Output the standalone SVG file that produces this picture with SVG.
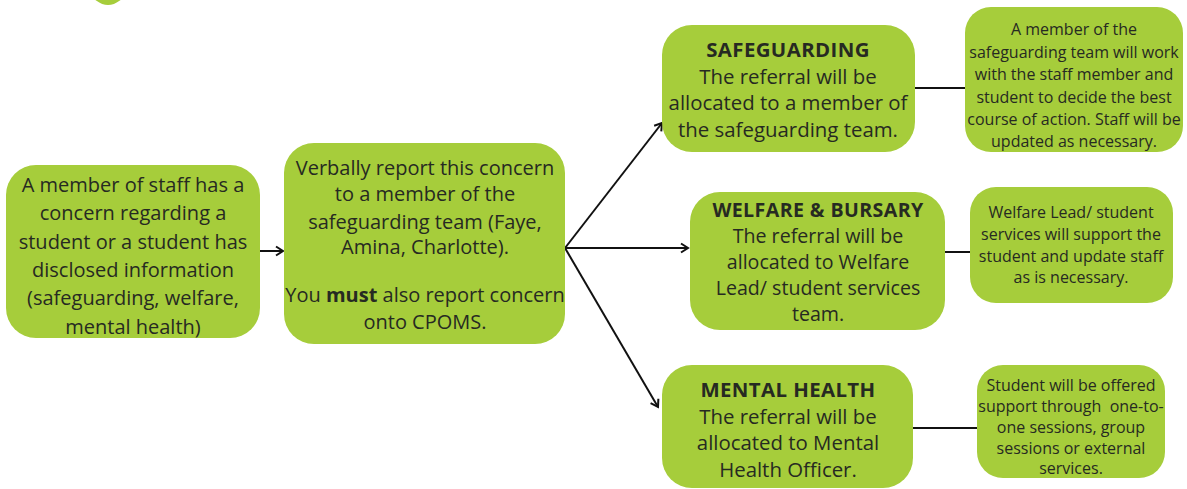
<svg xmlns="http://www.w3.org/2000/svg" width="1187" height="489" viewBox="0 0 1187 489">
<defs>
<marker id="arr" markerWidth="12" markerHeight="12" refX="9" refY="6" orient="auto" markerUnits="userSpaceOnUse">
<path d="M2,1.5 L9,6 L2,10.5" fill="none" stroke="#111" stroke-width="2"/>
</marker>
</defs>
<style>
.box{fill:#a6cd3b;}
.t{font-family:"Open Sans","Liberation Sans",sans-serif;fill:#262a22;text-anchor:middle;}
.l{font-size:20px;}
.m{font-size:20.4px;}
.w{font-size:19.6px;}
.s{font-size:16px;}
.b{font-weight:bold;letter-spacing:0.4px;}
.c{stroke:#111;stroke-width:2;fill:none;}
</style>
<rect width="1187" height="489" fill="#ffffff"/>
<g id="top-circle"><ellipse cx="108" cy="-50" rx="30" ry="55" class="box"/></g>
<g id="connectors">
<line class="c" x1="260" y1="251" x2="283" y2="251" marker-end="url(#arr)"/>
<line class="c" x1="565" y1="248" x2="662" y2="123" marker-end="url(#arr)"/>
<line class="c" x1="565" y1="248" x2="688" y2="248" marker-end="url(#arr)"/>
<line class="c" x1="565" y1="248" x2="658" y2="407" marker-end="url(#arr)"/>
<line class="c" x1="915" y1="88" x2="966" y2="88"/>
<line class="c" x1="945" y1="252" x2="971" y2="252"/>
<line class="c" x1="913" y1="428" x2="978" y2="428"/>
</g>
<g id="concern">
<rect class="box" x="6" y="165" width="254" height="173" rx="30"/>
<text class="t l" x="133"><tspan x="133" y="192">A member of staff has a</tspan><tspan x="133" y="220">concern regarding a</tspan><tspan x="133" y="249">student or a student has</tspan><tspan x="133" y="277">disclosed information</tspan><tspan x="133" y="305">(safeguarding, welfare,</tspan><tspan x="133" y="334">mental health)</tspan></text>
</g>
<g id="report">
<rect class="box" x="284" y="143" width="281" height="201" rx="30"/>
<text class="t l" x="425"><tspan x="425" y="175">Verbally report this concern</tspan><tspan x="425" y="201">to a member of the</tspan><tspan x="425" y="229">safeguarding team (Faye,</tspan><tspan x="425" y="254">Amina, Charlotte).</tspan><tspan x="425" y="302">You <tspan font-weight="bold">must</tspan> also report concern</tspan><tspan x="425" y="329">onto CPOMS.</tspan></text>
</g>
<g id="safeguarding">
<rect class="box" x="662" y="25" width="253" height="127" rx="30"/>
<text class="t m" x="788"><tspan x="788" y="57" class="b">SAFEGUARDING</tspan><tspan x="788" y="84">The referral will be</tspan><tspan x="788" y="110">allocated to a member of</tspan><tspan x="788" y="137">the safeguarding team.</tspan></text>
</g>
<g id="safeguarding-outcome">
<rect class="box" x="965" y="7" width="218" height="145" rx="26"/>
<text class="t s" x="1074"><tspan x="1074" y="35">A member of the</tspan><tspan x="1074" y="58">safeguarding team will work</tspan><tspan x="1074" y="80">with the staff member and</tspan><tspan x="1074" y="103">student to decide the best</tspan><tspan x="1074" y="125">course of action. Staff will be</tspan><tspan x="1074" y="147">updated as necessary.</tspan></text>
</g>
<g id="welfare">
<rect class="box" x="690" y="192" width="255" height="138" rx="30"/>
<text class="t w" x="818"><tspan x="818" y="217" class="b">WELFARE &amp; BURSARY</tspan><tspan x="818" y="243">The referral will be</tspan><tspan x="818" y="269">allocated to Welfare</tspan><tspan x="818" y="295">Lead/ student services</tspan><tspan x="818" y="321">team.</tspan></text>
</g>
<g id="welfare-outcome">
<rect class="box" x="970" y="187" width="203" height="116" rx="26"/>
<text class="t s" x="1071"><tspan x="1071" y="218">Welfare Lead/ student</tspan><tspan x="1071" y="240">services will support the</tspan><tspan x="1071" y="262">student and update staff</tspan><tspan x="1071" y="283">as is necessary.</tspan></text>
</g>
<g id="mental-health">
<rect class="box" x="662" y="365" width="251" height="123" rx="30"/>
<text class="t m" x="788"><tspan x="788" y="397" class="b">MENTAL HEALTH</tspan><tspan x="788" y="424">The referral will be</tspan><tspan x="788" y="450">allocated to Mental</tspan><tspan x="788" y="477">Health Officer.</tspan></text>
</g>
<g id="mental-health-outcome">
<rect class="box" x="977" y="365" width="188" height="113" rx="26"/>
<text class="t s" x="1071" xml:space="preserve"><tspan x="1071" y="391">Student will be offered</tspan><tspan x="1071" y="412">support through  one-to-</tspan><tspan x="1071" y="433">one sessions, group</tspan><tspan x="1071" y="454">sessions or external</tspan><tspan x="1071" y="474">services.</tspan></text>
</g>
</svg>
